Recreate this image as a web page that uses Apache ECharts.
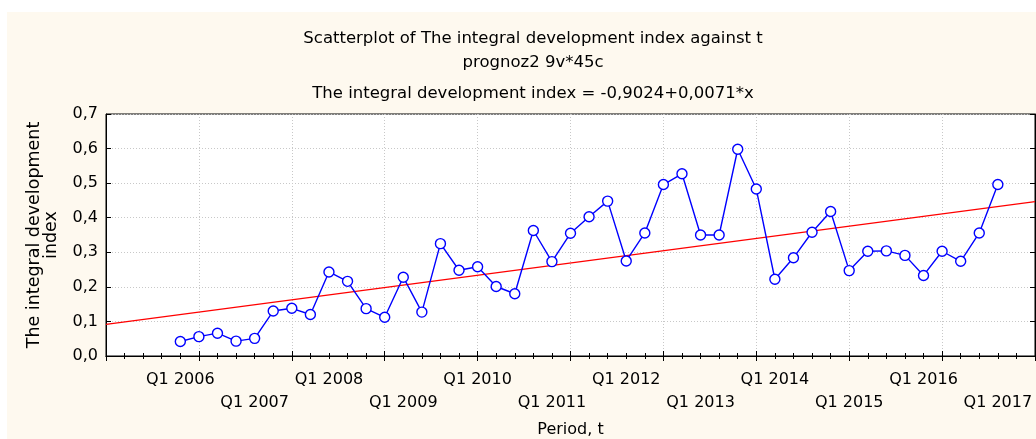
<!DOCTYPE html>
<html lang="en">
<head>
    <meta charset="UTF-8">
    <title>Scatterplot of The integral development index against t</title>
    <script src="https://cdn.jsdelivr.net/npm/echarts@6.0.0/dist/echarts.min.js"></script>
    <style>
        html, body { margin: 0; padding: 0; background: #ffffff; }
        #chart { position: absolute; left: 7px; top: 12px; width: 1029px; height: 427px; background: #fef9ef; }
    </style>
</head>
<body>
    <div id="chart"></div>

    <script>
        // period index t (quarters) and the integral development index
        var periods = [144, 145, 146, 147, 148, 149, 150, 151, 152, 153, 154, 155, 156, 157, 158,
                       159, 160, 161, 162, 163, 164, 165, 166, 167, 168, 169, 170, 171, 172, 173,
                       174, 175, 176, 177, 178, 179, 180, 181, 182, 183, 184, 185, 186, 187, 188];
        var indexValues = [0.042, 0.056, 0.066, 0.043, 0.051, 0.130, 0.138, 0.120, 0.243, 0.216,
                           0.137, 0.112, 0.228, 0.127, 0.325, 0.248, 0.258, 0.201, 0.180, 0.363,
                           0.273, 0.355, 0.403, 0.448, 0.275, 0.356, 0.496, 0.527, 0.350, 0.350,
                           0.598, 0.483, 0.222, 0.284, 0.358, 0.418, 0.247, 0.303, 0.304, 0.291,
                           0.233, 0.303, 0.274, 0.356, 0.496];

        // regression: y = -0,9024 + 0,0071*x
        var intercept = -0.9024;
        var slope = 0.0071;

        // custom tick labels along t
        var tickValues = [144, 148, 152, 156, 160, 164, 168, 172, 176, 180, 184, 188];
        var tickLabels = ['Q1 2006', 'Q1 2007', 'Q1 2008', 'Q1 2009', 'Q1 2010', 'Q1 2011',
                          'Q1 2012', 'Q1 2013', 'Q1 2014', 'Q1 2015', 'Q1 2016', 'Q1 2017'];

        var xMin = 140, xMax = 190;

        var chart = echarts.init(document.getElementById('chart'));

        var points = periods.map(function (t, i) { return [t, indexValues[i]]; });
        var fitLine = [[xMin, intercept + slope * xMin], [xMax, intercept + slope * xMax]];

        var font = '"DejaVu Sans", sans-serif';
        var dotted = { show: true, lineStyle: { color: '#c8c8c8', type: [1, 2], width: 1 } };
        var titleStyle = { fontSize: 16.5, fontWeight: 'normal', color: '#000', fontFamily: font };

        var option = {
            animation: false,
            textStyle: { fontFamily: font },
            title: [
                { text: 'Scatterplot of The integral development index against t', left: 521, top: 13, textAlign: 'center', textStyle: titleStyle },
                { text: 'prognoz2 9v*45c', left: 521, top: 37, textAlign: 'center', textStyle: titleStyle },
                { text: 'The integral development index = -0,9024+0,0071*x', left: 521, top: 68, textAlign: 'center', textStyle: titleStyle }
            ],
            grid: {
                left: 99, right: 1, top: 102, bottom: 83,
                outerBoundsMode: 'none',
                show: true, backgroundColor: '#ffffff', borderColor: '#000', borderWidth: 1
            },
            xAxis: [
                {
                    type: 'value', position: 'bottom', min: xMin, max: xMax, interval: 5,
                    name: 'Period, t', nameLocation: 'middle', nameGap: 66,
                    nameTextStyle: { fontSize: 16, color: '#000', fontFamily: font },
                    axisLine: { lineStyle: { color: '#000' } },
                    axisTick: { inside: true, length: 5, lineStyle: { color: '#000' } },
                    minorTick: { show: true, splitNumber: 5, length: 3, lineStyle: { color: '#000' } },
                    axisLabel: { show: false },
                    splitLine: dotted
                },
                {
                    type: 'value', position: 'top', min: xMin, max: xMax, interval: 5,
                    axisLine: { lineStyle: { color: '#000' } },
                    axisTick: { inside: true, length: 5, lineStyle: { color: '#000' } },
                    minorTick: { show: true, splitNumber: 5, length: 3, lineStyle: { color: '#000' } },
                    axisLabel: { show: false },
                    splitLine: { show: false }
                },
                {
                    type: 'value', position: 'bottom', min: xMin, max: xMax, interval: 4,
                    axisLine: { show: false },
                    axisTick: { show: false },
                    splitLine: { show: false },
                    axisLabel: {
                        show: true, fontSize: 16, color: '#000', margin: 12, lineHeight: 23,
                        showMinLabel: true, showMaxLabel: false,
                        formatter: function (v) {
                            var i = tickValues.indexOf(v);
                            if (i < 0) return '';
                            return (i % 2 === 1 ? '\n' : '') + tickLabels[i];
                        }
                    }
                }
            ],
            yAxis: [
                {
                    type: 'value', position: 'left', min: 0, max: 0.7, interval: 0.1,
                    name: 'The integral development\nindex', nameLocation: 'middle', nameGap: 46,
                    nameTextStyle: { fontSize: 17.5, color: '#000', lineHeight: 17, fontFamily: font },
                    axisLine: { show: true, lineStyle: { color: '#000' } },
                    axisTick: { show: true, inside: true, length: 5, lineStyle: { color: '#000' } },
                    axisLabel: {
                        fontSize: 16, color: '#000', margin: 8,
                        formatter: function (v) { return v.toFixed(1).replace('.', ','); }
                    },
                    splitLine: dotted
                },
                {
                    type: 'value', position: 'right', min: 0, max: 0.7, interval: 0.1,
                    axisLine: { show: true, lineStyle: { color: '#000' } },
                    axisTick: { show: true, inside: true, length: 5, lineStyle: { color: '#000' } },
                    axisLabel: { show: false },
                    splitLine: { show: false }
                }
            ],
            series: [
                {
                    name: 'fit', type: 'line', xAxisIndex: 0, yAxisIndex: 0,
                    data: fitLine, symbol: 'none', clip: true,
                    lineStyle: { color: '#ff0000', width: 1.3 }, z: 2
                },
                {
                    name: 'index', type: 'line', xAxisIndex: 0, yAxisIndex: 0,
                    data: points, symbol: 'circle', symbolSize: 10, showAllSymbol: true,
                    lineStyle: { color: '#0000ff', width: 1.4 },
                    itemStyle: { color: '#ffffff', borderColor: '#0000ff', borderWidth: 1.4 }, z: 3
                }
            ]
        };

        chart.setOption(option);
    </script>
</body>
</html>
